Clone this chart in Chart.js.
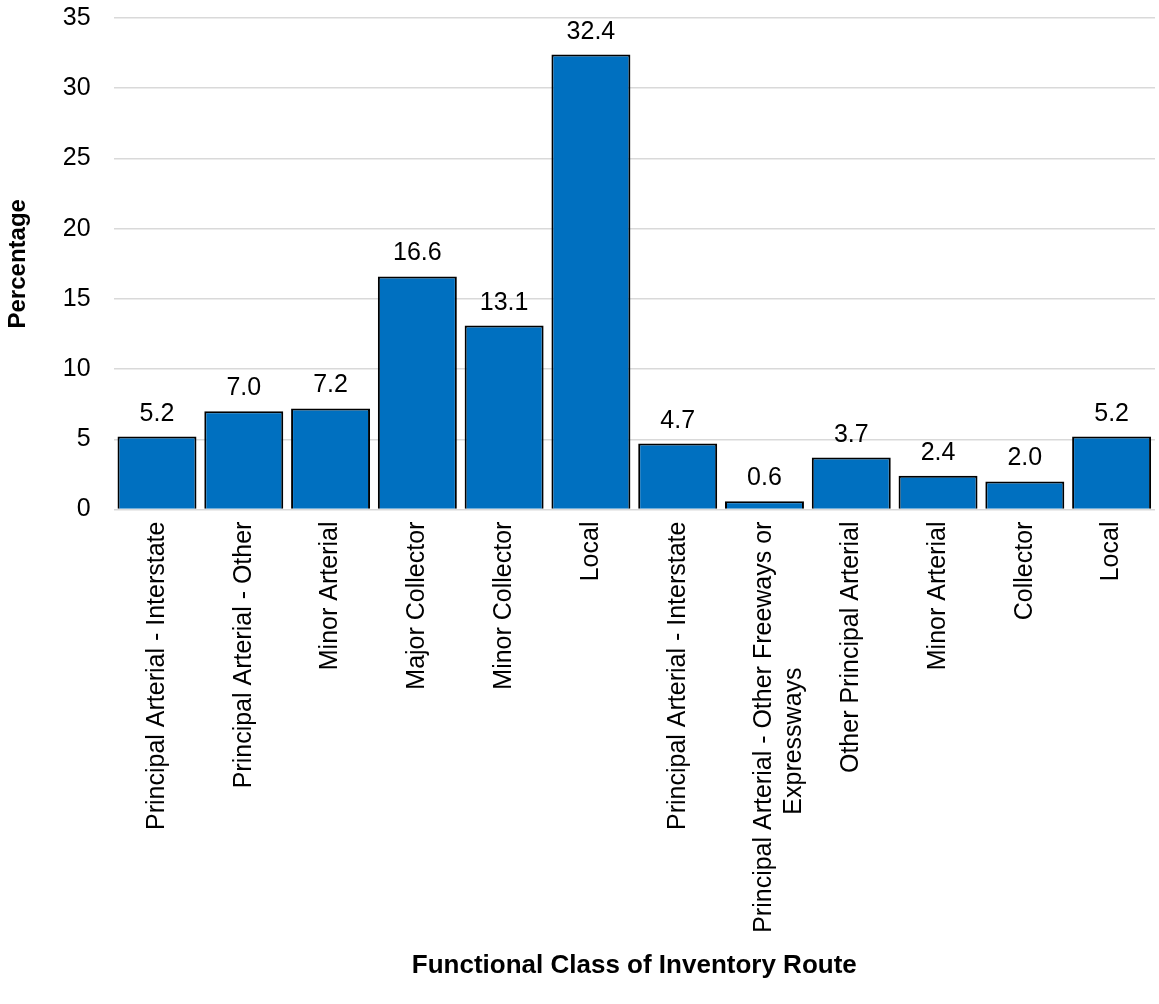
<!DOCTYPE html>
<html>
<head>
<meta charset="utf-8">
<script src="https://cdn.jsdelivr.net/npm/chart.js@4.4.0/dist/chart.umd.min.js"></script>
<style>
    html, body { margin: 0; padding: 0; background: #fff; }
    #wrap { width: 1159px; height: 1004px; }
</style>
</head>
<body>
<div id="wrap"><canvas id="chart"></canvas></div>
<script>
const categories = [
    'Principal Arterial - Interstate',
    'Principal Arterial - Other',
    'Minor Arterial',
    'Major Collector',
    'Minor Collector',
    'Local',
    'Principal Arterial - Interstate',
    ['Principal Arterial - Other Freeways or', 'Expressways' + ' '.repeat(21)],
    'Other Principal Arterial',
    'Minor Arterial',
    'Collector',
    'Local'
];
const percentages = [5.2, 7.0, 7.2, 16.6, 13.1, 32.4, 4.7, 0.6, 3.7, 2.4, 2.0, 5.2];
const yTicks = [0, 5, 10, 15, 20, 25, 30, 35];

const fontFamily = '"Liberation Sans", Arial, sans-serif';

// draws the value above each bar
const valueLabels = {
    id: 'valueLabels',
    afterDatasetsDraw(chart) {
        const ctx = chart.ctx;
        const meta = chart.getDatasetMeta(0);
        ctx.save();
        ctx.font = '25px ' + fontFamily;
        ctx.fillStyle = '#000';
        ctx.textAlign = 'center';
        ctx.textBaseline = 'alphabetic';
        meta.data.forEach((bar, i) => {
            ctx.fillText(percentages[i].toFixed(1), bar.x, bar.y - 16);
        });
        ctx.restore();
    }
};

const ctx = document.getElementById('chart').getContext('2d');

new Chart(ctx, {
    type: 'bar',
    data: {
        labels: categories,
        datasets: [{
            label: 'Percentage',
            data: percentages,
            backgroundColor: '#0070C0',
            borderColor: '#000',
            borderWidth: 2,
            barPercentage: 0.91,
            categoryPercentage: 1.0
        }]
    },
    options: {
        responsive: true,
        maintainAspectRatio: false,
        animation: false,
        layout: { padding: { left: 4, right: 4, top: 1, bottom: 23 } },
        scales: {
            x: {
                grid: { display: false, drawTicks: false },
                border: { display: false },
                ticks: {
                    font: { size: 25, family: fontFamily },
                    color: '#000',
                    minRotation: 90,
                    maxRotation: 90,
                    padding: 12,
                    autoSkip: false
                },
                title: {
                    display: true,
                    text: 'Functional Class of Inventory Route',
                    font: { size: 26, weight: 'bold', family: fontFamily },
                    color: '#000',
                    padding: { top: 5, bottom: 0 }
                }
            },
            y: {
                min: 0,
                max: 35,
                afterBuildTicks: axis => { axis.ticks = yTicks.map(v => ({ value: v })); },
                grid: {
                    color: '#d9d9d9',
                    lineWidth: 1.5,
                    drawTicks: true,
                    tickLength: 20,
                    tickColor: 'rgba(0,0,0,0)'
                },
                border: { display: false },
                ticks: {
                    font: { size: 25, family: fontFamily },
                    color: '#000',
                    padding: 3
                },
                title: {
                    display: true,
                    text: 'Percentage',
                    font: { size: 24, weight: 'bold', family: fontFamily },
                    color: '#000',
                    padding: { top: 0, bottom: 27 }
                }
            }
        },
        plugins: {
            legend: { display: false },
            tooltip: { enabled: false }
        }
    },
    plugins: [valueLabels]
});
</script>
</body>
</html>
